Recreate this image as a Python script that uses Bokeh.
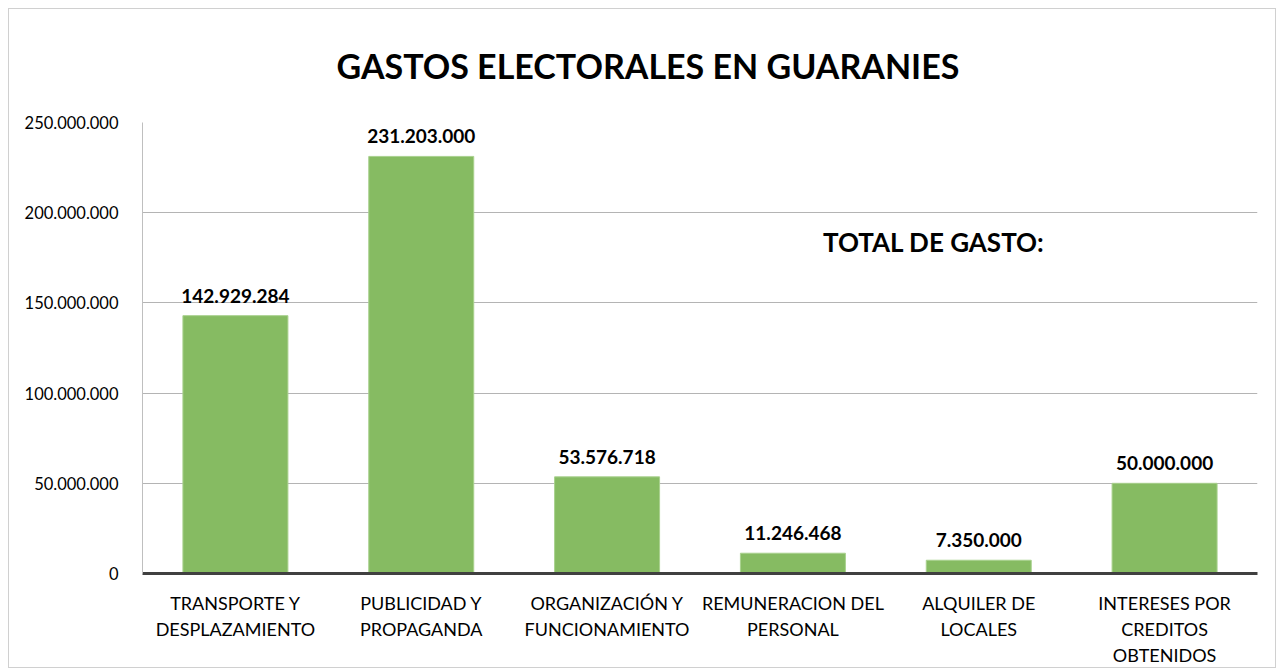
from bokeh.plotting import figure
from bokeh.models import ColumnDataSource, FactorRange, FixedTicker, Range1d
from bokeh.core.properties import value
from bokeh.embed import file_html
from bokeh.resources import INLINE

categories = ["TRANSPORTE Y\nDESPLAZAMIENTO", "PUBLICIDAD Y\nPROPAGANDA",
              "ORGANIZACIÓN Y\nFUNCIONAMIENTO", "REMUNERACION DEL\nPERSONAL",
              "ALQUILER DE\nLOCALES", "INTERESES POR\nCREDITOS\nOBTENIDOS"]
amounts = [142929284, 231203000, 53576718, 11246468, 7350000, 50000000]
y_ticks = [0, 50000000, 100000000, 150000000, 200000000, 250000000]
title_text = "GASTOS ELECTORALES EN GUARANIES"
note_text = "TOTAL DE GASTO:"
note_value = 184000000


def fmt(v):
    return f"{v:,}".replace(",", ".")


labels = [fmt(v) for v in amounts]
src = ColumnDataSource(dict(cat=categories, amt=amounts, lab=labels))

FONT = "Lato"
p = figure(width=1268, height=660, x_range=FactorRange(*categories, range_padding=0),
           y_range=Range1d(0, 250000000), output_backend="svg", toolbar_location=None,
           min_border_left=133, min_border_right=20, min_border_top=113, min_border_bottom=95)
p.styles = {"border": "1px solid #d0d0d0", "margin-left": "8px", "margin-top": "8px"}

p.title.text = title_text
p.title.align = "left"
p.title.offset = 194
p.title.standoff = 70
p.title.vertical_align = "top"
p.title.text_font = FONT
p.title.text_font_style = "bold"
p.title.text_font_size = "34px"
p.title.text_color = "#000000"

p.vbar(x="cat", top="amt", width=0.565, source=src, fill_color="#86BB62",
       line_color="#a9d18e", line_width=1)

p.text(x="cat", y="amt", text="lab", source=src, text_align="center", text_baseline="bottom",
       y_offset=-13, text_font=value(FONT), text_font_style="bold", text_font_size="19px",
       text_color="#000000")

p.text(x=[categories[4]], y=[note_value], text=[note_text], text_align="center",
       text_baseline="middle", x_offset=-45, text_font=value(FONT), text_font_style="bold",
       text_font_size="26px", text_color="#000000")

p.yaxis.ticker = FixedTicker(ticks=y_ticks)
p.yaxis.major_label_overrides = {t: fmt(t) for t in y_ticks}
p.yaxis.major_tick_line_color = None
p.yaxis.minor_tick_line_color = None
p.yaxis.axis_line_color = "#bfbfbf"
p.yaxis.major_label_text_font = FONT
p.yaxis.major_label_text_font_size = "16.5px"
p.yaxis.major_label_text_color = "#000000"
p.yaxis.major_label_standoff = 18

p.xaxis.major_tick_line_color = None
p.xaxis.axis_line_color = "#404040"
p.xaxis.axis_line_width = 3
p.xaxis.major_label_text_font = FONT
p.xaxis.major_label_text_font_size = "18px"
p.xaxis.major_label_text_color = "#000000"
p.xaxis.major_label_standoff = 12

p.xgrid.grid_line_color = None
p.ygrid.grid_line_color = "#b4b4b4"
p.ygrid.grid_line_width = 1
p.outline_line_color = None

open("out.html", "w").write(file_html(p, INLINE))
